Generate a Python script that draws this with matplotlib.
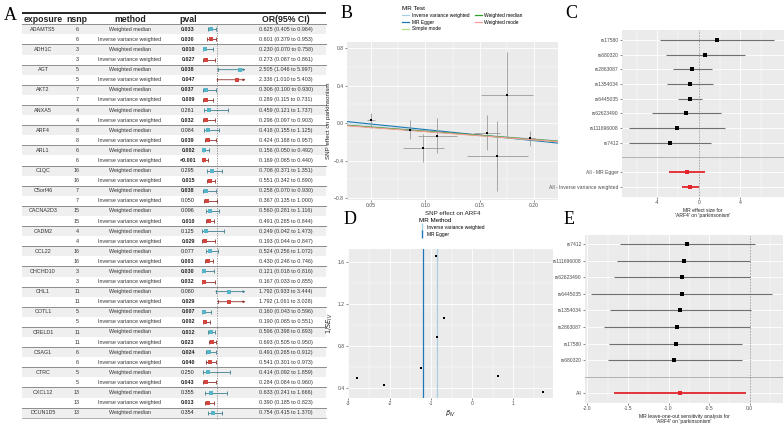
import matplotlib
matplotlib.use('Agg')
import matplotlib.pyplot as plt
from matplotlib.lines import Line2D
from matplotlib.patches import Rectangle
import numpy as np

plt.rcParams['font.family'] = ['Liberation Sans', 'DejaVu Sans']

# ---------------- Panel A data ----------------
row_exposure = ["ADAMTS5", "", "ADH1C", "", "AGT", "", "AKT2", "", "ANXA5", "", "ARF4", "",
                "ARL1", "", "C1QC", "", "C5orf46", "", "CACNA2D3", "", "CADM2", "", "CCL22", "",
                "CHCHD10", "", "CHL1", "", "COTL1", "", "CRELD1", "", "CSAG1", "", "CTRC", "",
                "CXCL12", "", "DCUN1D5"]
row_nsnp = [6, 6, 3, 3, 5, 5, 7, 7, 4, 4, 8, 8, 6, 6, 16, 16, 7, 7, 15, 15, 4, 4, 16, 16,
            3, 3, 11, 11, 5, 5, 11, 11, 6, 6, 5, 5, 13, 13, 13]
row_method = (["Weighted median", "Inverse variance weighted"] * 19) + ["Weighted median"]
row_pval = ["0.033", "0.030", "0.010", "0.027", "0.038", "0.047", "0.037", "0.009", "0.261", "0.032",
            "0.084", "0.039", "0.002", "<0.001", "0.295", "0.015", "0.038", "0.050", "0.096", "0.010",
            "0.125", "0.029", "0.077", "0.003", "0.030", "0.032", "0.080", "0.029", "0.007", "0.002",
            "0.012", "0.023", "0.024", "0.040", "0.250", "0.043", "0.355", "0.013", "0.354"]
row_or = [0.625, 0.601, 0.230, 0.273, 2.505, 2.336, 0.306, 0.289, 0.459, 0.296, 0.418, 0.424,
          0.156, 0.169, 0.708, 0.551, 0.258, 0.367, 0.560, 0.491, 0.249, 0.193, 0.524, 0.430,
          0.121, 0.167, 1.792, 1.792, 0.160, 0.190, 0.596, 0.693, 0.491, 0.541, 0.414, 0.284,
          0.633, 0.390, 0.754]
row_lo = [0.405, 0.379, 0.070, 0.087, 1.046, 1.010, 0.100, 0.115, 0.121, 0.097, 0.155, 0.188,
          0.050, 0.065, 0.371, 0.342, 0.070, 0.135, 0.281, 0.285, 0.042, 0.044, 0.256, 0.248,
          0.018, 0.033, 0.933, 1.061, 0.043, 0.065, 0.398, 0.505, 0.265, 0.301, 0.092, 0.084,
          0.241, 0.185, 0.415]
row_hi = [0.964, 0.953, 0.758, 0.861, 5.997, 5.403, 0.930, 0.731, 1.737, 0.903, 1.125, 0.957,
          0.492, 0.440, 1.351, 0.890, 0.930, 1.000, 1.116, 0.844, 1.473, 0.847, 1.072, 0.746,
          0.816, 0.855, 3.444, 3.028, 0.596, 0.551, 0.893, 0.950, 0.912, 0.973, 1.859, 0.960,
          1.666, 0.823, 1.370]
headers = ["exposure", "nsnp", "method", "pval", "OR(95% CI)"]

# ---------------- Panel B data ----------------
b_x = [0.050, 0.0855, 0.098, 0.111, 0.157, 0.166, 0.175, 0.196]
b_y = [0.032, -0.072, -0.270, -0.135, -0.103, -0.350, 0.300, -0.163]
b_xerr = [0.004, 0.004, 0.019, 0.018, 0.012, 0.028, 0.024, 0.005]
b_yerr = [0.08, 0.10, 0.15, 0.19, 0.19, 0.37, 0.46, 0.08]
b_methods = ["Inverse variance weighted", "MR Egger", "Simple mode", "Weighted median", "Weighted mode"]
b_slopes = [-0.858, -1.18, -0.90, -0.872, -0.87]
b_intercepts = [0.0, 0.048, 0.0, 0.0, -0.005]
b_colors = ["#a6cee3", "#1f78b4", "#b2df8a", "#33a02c", "#fb9a99"]

# ---------------- Panel C data ----------------
c_labels = ["rs17580", "rs680320", "rs2863087", "rs1354034", "rs6445035", "rs62623490",
            "rs111696008", "rs7412", "All - MR Egger", "All - Inverse variance weighted"]
c_est = [1.70, 0.64, -0.67, -0.83, -0.87, -1.25, -2.14, -2.79, -1.18, -0.87]
c_lo = [-3.75, -3.17, -2.53, -3.05, -2.02, -4.49, -6.76, -6.73, -2.92, -1.63]
c_hi = [7.20, 4.45, 1.22, 1.41, 0.32, 2.14, 2.53, 1.15, 0.61, -0.03]

# ---------------- Panel D data ----------------
d_beta = [-2.80, -2.14, -1.24, -0.88, -0.68, -0.86, 0.62, 1.72]
d_invse = [0.495, 0.425, 0.587, 1.66, 1.067, 0.882, 0.517, 0.358]
d_methods = ["Inverse variance weighted", "MR Egger"]
d_lines = [-0.86, -1.18]
d_colors = ["#a6cee3", "#1f78b4"]

# ---------------- Panel E data ----------------
e_labels = ["rs7412", "rs111696008", "rs62623490", "rs6445035", "rs1354034", "rs2863087",
            "rs17580", "rs680320", "All"]
e_est = [-0.77, -0.81, -0.83, -0.83, -0.86, -0.90, -0.91, -0.93, -0.86]
e_lo = [-1.60, -1.64, -1.67, -1.95, -1.72, -1.80, -1.73, -1.75, -1.67]
e_hi = [0.06, 0.00, 0.00, 0.28, 0.01, 0.00, -0.09, -0.09, -0.04]

W, H = 784, 428
fig = plt.figure(figsize=(W / 100, H / 100), dpi=100)
fig.patch.set_facecolor('white')


def ax_px(x0, y0, x1, y1):
    return fig.add_axes([x0 / W, 1 - y1 / H, (x1 - x0) / W, (y1 - y0) / H])


def gg(ax, xmaj, xmin=(), ymaj=None, ymin=()):
    ax.set_facecolor('#EBEBEB')
    for s in ax.spines.values():
        s.set_visible(False)
    ax.set_xticks(xmaj)
    ax.set_xticks(list(xmin), minor=True)
    if ymaj is not None:
        ax.set_yticks(ymaj)
    ax.set_yticks(list(ymin), minor=True)
    ax.grid(which='major', color='white', lw=0.6)
    ax.grid(which='minor', color='white', lw=0.3)
    ax.set_axisbelow(True)
    ax.tick_params(which='major', length=1.5, width=0.4, color='#333333', labelsize=3.6,
                   labelcolor='#4D4D4D', pad=1)
    ax.tick_params(which='minor', length=0)


def letter(x, y, s):
    fig.text(x / W, 1 - y / H, s, fontsize=13, family='Liberation Serif', va='center', ha='left')


# ================= Panel A =================
tA = ax_px(0, 0, 340, 428)
tA.set_xlim(0, 340)
tA.set_ylim(428, 0)
tA.axis('off')
y0, dy = 29.3, 10.09
nrow = len(row_method)
ys = [y0 + dy * i for i in range(nrow)]
col_x = [43, 77, 130, 188, 286]
for hx, ht in zip(col_x, headers):
    tA.text(hx, 19.5, ht, ha='center', va='center', fontsize=6.3, fontweight='bold', color='#222222')
tA.plot([22, 326], [13.2, 13.2], color='black', lw=1.2, solid_capstyle='butt')
for i in range(nrow):
    yc = ys[i]
    if row_method[i] == "Weighted median":
        tA.add_patch(Rectangle((22, yc - dy / 2), 304, dy, facecolor='#EFEFEF', lw=0, zorder=0))
        tA.plot([22, 326], [yc - dy / 2, yc - dy / 2], color='#8C8C8C', lw=0.7, zorder=1)
    if row_exposure[i]:
        tA.text(col_x[0], yc, row_exposure[i], ha='center', va='center', fontsize=3.9, color='#333333')
    tA.text(col_x[1], yc, str(row_nsnp[i]), ha='center', va='center', fontsize=3.9, color='#333333')
    tA.text(col_x[2], yc, row_method[i], ha='center', va='center', fontsize=3.9, color='#333333')
    pv = row_pval[i]
    pnum = 0.0005 if pv.startswith('<') else float(pv)
    tA.text(col_x[3], yc, pv, ha='center', va='center', fontsize=3.9,
            fontweight='bold' if pnum < 0.05 else 'normal', color='#222222')
    tA.text(col_x[4], yc, f"{row_or[i]:.3f} ({row_lo[i]:.3f} to {row_hi[i]:.3f})",
            ha='center', va='center', fontsize=3.9, color='#333333')
tA.plot([22, 326], [ys[-1] + dy / 2, ys[-1] + dy / 2], color='#8C8C8C', lw=0.5)

fA = ax_px(201, 0, 247, 428)
fA.set_xlim(-0.05, 3.0)
fA.set_ylim(428, 0)
fA.axis('off')
fA.patch.set_alpha(0)
fA.plot([1, 1], [25, 419], color='#888888', lw=0.6, ls=(0, (1.5, 1.5)))
xmax_clip = 2.9
for i in range(nrow):
    yc = ys[i]
    wm = row_method[i] == "Weighted median"
    lc = '#3E7F8E' if wm else '#8E2F2A'
    mc = '#56B4C8' if wm else '#D2463F'
    hi = row_hi[i]
    if hi > xmax_clip:
        fA.annotate('', xy=(xmax_clip, yc), xytext=(row_lo[i], yc),
                    arrowprops=dict(arrowstyle='-|>', color=lc, lw=0.6, mutation_scale=3,
                                    shrinkA=0, shrinkB=0))
        fA.plot([row_lo[i], row_lo[i]], [yc - 1.4, yc + 1.4], color=lc, lw=0.6)
    else:
        fA.errorbar([row_or[i]], [yc], xerr=[[row_or[i] - row_lo[i]], [hi - row_or[i]]],
                    fmt='none', ecolor=lc, elinewidth=0.6, capsize=1.3, capthick=0.6)
    fA.plot([row_or[i]], [yc], marker='s', ms=2.3, color=mc, mew=0, zorder=5)

letter(4, 15, "A")

# ================= Panel B =================
axB = ax_px(347, 42, 558, 200)
gg(axB, [0.05, 0.10, 0.15, 0.20], [0.075, 0.125, 0.175],
   [-0.8, -0.4, 0.0, 0.4, 0.8], [-0.6, -0.2, 0.2, 0.6])
axB.set_xlim(0.0278, 0.222)
axB.set_ylim(-0.821, 0.864)
axB.set_xticklabels(["0.05", "0.10", "0.15", "0.20"])
xx = np.array(axB.get_xlim())
xxf = np.linspace(xx[0], xx[1], 50)
axB.fill_between(xxf, b_intercepts[0] + b_slopes[0] * xxf, b_intercepts[1] + b_slopes[1] * xxf,
                 color='#a6cee3', alpha=0.35, lw=0)
for m, s, b, c in zip(b_methods, b_slopes, b_intercepts, b_colors):
    axB.plot(xx, b + s * xx, color=c, lw=0.8)
axB.errorbar(b_x, b_y, xerr=b_xerr, yerr=b_yerr, fmt='none', ecolor='#9A9A9A', elinewidth=0.6)
axB.plot(b_x, b_y, 's', ms=2.0, color='black', mew=0)
axB.set_xlabel("SNP effect on ARF4", fontsize=4.5, labelpad=1.5, color='#222222')
axB.set_ylabel("SNP effect on parkinsonism", fontsize=4.5, labelpad=1.5, color='#222222')
handlesB = [Line2D([0], [0], color=c, lw=0.9) for c in b_colors]
legB = fig.legend(handlesB, b_methods, ncol=2, loc='upper left', bbox_to_anchor=(398 / W, 1 - 2 / H),
                  title="MR Test", fontsize=3.5, title_fontsize=4.5, frameon=False,
                  handlelength=1.4, columnspacing=1.2, handletextpad=0.5, labelspacing=0.35,
                  alignment='left')
letter(341, 14, "B")

# ================= Panel C =================
axC = ax_px(622, 30, 784, 197)
gg(axC, [-4, 0, 4], [-6, -2, 2, 6])
axC.set_xlim(-7.4, 8.2)
c_pos = [0, 1, 2, 3, 4, 5, 6, 7, 9, 10]
axC.set_ylim(10.7, -0.68)
axC.set_yticks(c_pos)
axC.set_yticklabels(c_labels)
axC.set_xticklabels(["-4", "0", "4"])
axC.axhline(8, color='#9A9A9A', lw=0.5)
axC.axvline(0, color='#555555', lw=0.5, ls=(0, (1, 1.2)))
for k, (p, e, lo, hi) in enumerate(zip(c_pos, c_est, c_lo, c_hi)):
    allrow = c_labels[k].startswith("All")
    axC.plot([lo, hi], [p, p], color='#E3242B' if allrow else '#707070', lw=1.3 if allrow else 0.8,
             solid_capstyle='butt')
    axC.plot([e], [p], 's', ms=2.3, color='#E3242B' if allrow else 'black', mew=0, zorder=5)
axC.set_xlabel("MR effect size for\n'ARF4' on 'parkinsonism'", fontsize=3.6, labelpad=1.5,
               color='#222222', linespacing=1.0)
letter(565, 14, "C")

# ================= Panel D =================
axD = ax_px(348, 249, 553, 398)
gg(axD, [-3, -2, -1, 0, 1], [-2.5, -1.5, -0.5, 0.5, 1.5],
   [0.4, 0.8, 1.2, 1.6], [0.6, 1.0, 1.4])
axD.set_xlim(-3.01, 1.96)
axD.set_ylim(0.305, 1.724)
axD.set_xticklabels(["-3", "-2", "-1", "0", "1"])
axD.set_yticklabels(["0.4", "0.8", "1.2", "1.6"])
for xv, c in zip(d_lines, d_colors):
    axD.axvline(xv, color=c, lw=0.9)
axD.plot(d_beta, d_invse, 's', ms=2.1, color='black', mew=0)
axD.set_xlabel(r"$\beta_{IV}$", fontsize=4.8, labelpad=1.5, color='#222222')
axD.set_ylabel(r"$1/SE_{IV}$", fontsize=4.8, labelpad=1.5, color='#222222')
handlesD = [Line2D([0], [0], color=c, lw=0, marker='|', ms=6, mew=1.0) for c in d_colors]
fig.legend(handlesD, d_methods, loc='upper left', bbox_to_anchor=(415 / W, 1 - 214 / H),
           title="MR Method", fontsize=3.5, title_fontsize=4.5, frameon=False,
           handlelength=1.0, handletextpad=0.5, labelspacing=0.35, alignment='left')
letter(344, 219, "D")

# ================= Panel E =================
axE = ax_px(585, 235, 783, 403)
gg(axE, [-2.0, -1.5, -1.0, -0.5, 0.0], [-1.75, -1.25, -0.75, -0.25, 0.25])
axE.set_xlim(-2.03, 0.41)
e_pos = [0, 1, 2, 3, 4, 5, 6, 7, 9]
axE.set_ylim(9.58, -0.54)
axE.set_yticks(e_pos)
axE.set_yticklabels(e_labels)
axE.set_xticklabels(["-2.0", "-1.5", "-1.0", "-0.5", "0.0"])
axE.axhline(8, color='#9A9A9A', lw=0.5)
axE.axvline(0, color='#555555', lw=0.5, ls=(0, (1, 1.2)))
for k, (p, e, lo, hi) in enumerate(zip(e_pos, e_est, e_lo, e_hi)):
    allrow = e_labels[k] == "All"
    axE.plot([lo, hi], [p, p], color='#E3242B' if allrow else '#707070', lw=1.3 if allrow else 0.8,
             solid_capstyle='butt')
    axE.plot([e], [p], 's', ms=2.3, color='#E3242B' if allrow else 'black', mew=0, zorder=5)
axE.set_xlabel("MR leave-one-out sensitivity analysis for\n'ARF4' on 'parkinsonism'", fontsize=3.6,
               labelpad=1.5, color='#222222', linespacing=1.0)
letter(564, 219, "E")

fig.savefig("out.png", dpi=100, facecolor='white')
